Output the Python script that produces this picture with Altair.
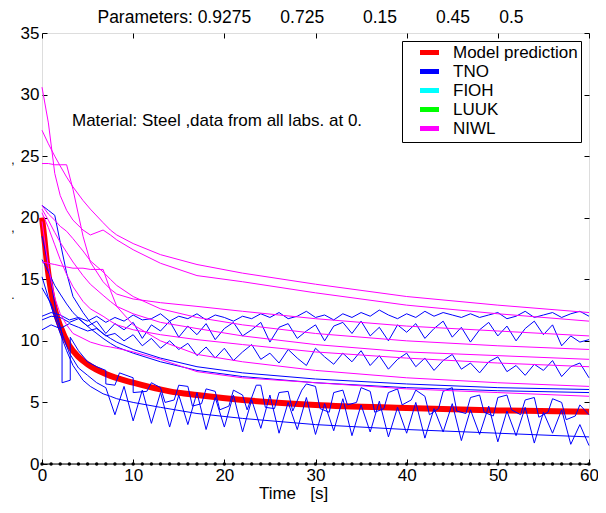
import altair as alt
import pandas as pd

# ---------------- data ----------------
LABS = ["Model prediction", "TNO", "FIOH", "LUUK", "NIWL"]
LAB_COLORS = ["#ff0000", "#0000ff", "#00ffff", "#00ff00", "#ff00ff"]

# model prediction (red)
RED_T = [0, 0.25, 0.5, 1, 1.5, 2, 3, 4, 5, 7, 10, 14, 17, 22, 30, 40, 50, 60]
RED_V = [20.0, 18.4, 16.6, 14.0, 12.3, 11.2, 9.6, 8.7, 8.1, 7.3, 6.6, 5.9, 5.6, 5.2, 4.8, 4.55, 4.35, 4.25]

# sampling times of the smooth curves
T_SMOOTH = [0, 0.7, 1.4, 2, 2.7, 3.4, 4.5, 5.3, 6.7, 7.5, 8.2, 10, 13, 17, 22, 30, 40, 50, 60]

# NIWL (magenta) curves
NIWL_A = [27.1, 26.0, 25.0, 24.2, 23.3, 22.5, 21.4, 20.7, 19.6, 19.0, 18.6, 17.9, 17.0, 16.2, 15.5, 14.6, 13.6, 12.9, 12.3]
NIWL_B = [30.6, 27.7, 23.6, 21.8, 20.6, 19.8, 19.0, 18.6, 19.0, 18.6, 18.2, 17.4, 16.3, 15.3, 14.8, 13.9, 12.9, 12.2, 11.6]
NIWL_C = [24.4, 24.4, 24.3, 24.3, 24.3, 22.3, 18.5, 16.4, 14.8, 14.2, 13.8, 13.4, 13.1, 12.8, 12.4, 11.8, 11.2, 10.8, 10.4]
NIWL_D = [21.0, 20.3, 19.8, 19.3, 18.9, 18.3, 17.3, 16.5, 15.6, 15.0, 14.5, 13.6, 12.6, 11.9, 11.3, 10.6, 10.0, 9.6, 9.3]
NIWL_E = [20.7, 19.8, 18.8, 18.0, 17.2, 16.4, 15.3, 14.6, 13.7, 13.2, 12.8, 12.2, 11.5, 11.0, 10.4, 9.7, 9.1, 8.8, 8.5]
NIWL_F = [20.4, 19.2, 17.8, 16.6, 15.4, 14.4, 13.2, 12.6, 12.0, 11.6, 11.3, 10.9, 10.5, 10.1, 9.7, 9.1, 8.6, 8.2, 7.9]
NIWL_G = [16.4, 16.3, 16.2, 16.1, 16.0, 15.9, 15.9, 15.8, 15.8, 14.1, 12.8, 11.3, 10.0, 8.9, 8.3, 7.6, 7.0, 6.6, 6.3]
NIWL_H = [19.7, 16.0, 13.5, 12.2, 11.3, 10.6, 10.2, 9.9, 9.6, 9.5, 9.4, 9.1, 8.5, 7.5, 7.0, 6.6, 6.1, 5.8, 5.5]

# TNO (blue) smooth curves
TNO_S1 = [21.0, 20.6, 20.2, 18.0, 15.5, 13.6, 12.3, 11.5, 10.6, 10.2, 9.9, 9.3, 8.6, 7.9, 7.4, 6.9, 6.5, 6.2, 6.05]
TNO_S2 = [16.6, 15.6, 14.5, 13.8, 13.0, 12.3, 11.5, 11.0, 10.2, 9.8, 9.5, 9.0, 8.3, 7.6, 7.1, 6.6, 6.2, 5.95, 5.8]
TNO_S3 = [15.2, 13.5, 11.9, 10.6, 9.2, 8.0, 6.8, 6.3, 5.7, 5.5, 5.3, 5.0, 4.6, 4.1, 3.7, 3.2, 2.8, 2.5, 2.2]

# one-second sampling times of the noisy curves
T_SEC = [0, 1, 2, 3, 4, 5, 6, 7, 8, 9, 10, 11, 12, 13, 14, 15, 16, 17, 18, 19, 20,
         21, 22, 23, 24, 25, 26, 27, 28, 29, 30, 31, 32, 33, 34, 35, 36, 37, 38, 39, 40,
         41, 42, 43, 44, 45, 46, 47, 48, 49, 50, 51, 52, 53, 54, 55, 56, 57, 58, 59, 60]

TNO_N1 = [12.0, 12.3, 12.1, 11.7, 11.9, 11.6, 12.0, 11.5, 11.9, 11.6, 12.1, 11.7, 11.8, 12.2, 11.6, 12.0,
          11.8, 12.2, 11.7, 12.1, 11.9, 11.6, 12.0, 11.8, 12.2, 11.9, 12.3, 11.8, 12.0, 12.4, 11.9, 12.1,
          11.7, 12.2, 11.9, 12.3, 12.0, 12.5, 12.1, 11.8, 12.2, 11.9, 12.4, 12.0, 12.3, 12.1, 11.9, 12.2,
          11.9, 12.1, 12.3, 11.8, 12.0, 12.4, 11.9, 12.1, 12.3, 11.9, 12.2, 12.4, 12.0]
TNO_N2 = [11.7, 12.0, 11.9, 11.5, 11.8, 11.2, 11.6, 10.6, 11.4, 10.9, 11.5, 10.2, 11.3, 10.8, 11.6, 10.3,
          11.2, 10.5, 11.4, 10.1, 11.0, 11.5, 10.4, 10.9, 11.5, 9.9, 11.1, 11.4, 10.2, 10.8, 11.3, 10.0,
          11.2, 11.5, 10.6, 11.6, 10.4, 11.1, 10.0, 11.3, 10.7, 11.4, 10.2, 11.0, 11.6, 10.3, 11.1, 9.9,
          10.9, 11.5, 10.4, 11.2, 10.0, 11.0, 11.6, 10.5, 11.3, 9.6, 10.4, 9.9, 10.1]
TNO_N3 = [10.9, 11.3, 11.0, 11.4, 11.1, 10.8, 11.0, 10.4, 10.6, 10.0, 10.5, 9.6, 10.2, 9.4, 10.0, 9.3,
          9.8, 8.8, 9.5, 8.6, 9.4, 8.4, 9.1, 9.7, 8.5, 9.0, 8.2, 9.3, 8.6, 8.0, 9.4, 8.7,
          8.1, 9.0, 8.3, 9.2, 8.0, 8.8, 7.7, 8.5, 9.0, 7.9, 8.6, 7.6, 8.4, 8.9, 7.7, 8.2,
          7.4, 8.3, 8.7, 7.5, 8.0, 7.2, 8.1, 7.6, 8.4, 7.1, 7.9, 8.2, 7.0]
TNO_ZIG = [14.3, 13.0, 11.0, 9.0, 7.8, 7.2, 6.6, 6.2, 4.0, 6.3, 3.5, 6.0, 3.3, 5.8, 3.0, 5.6,
           3.2, 5.8, 2.8, 5.4, 3.0, 5.6, 2.6, 5.2, 2.9, 5.6, 2.5, 5.0, 2.8, 5.4, 2.4, 4.9,
           2.7, 5.3, 2.3, 4.8, 2.6, 5.1, 2.2, 4.6, 2.5, 5.0, 2.1, 4.5, 2.6, 4.9, 1.9, 4.4,
           2.4, 4.7, 1.8, 4.3, 2.3, 4.6, 1.7, 4.2, 2.5, 4.4, 1.6, 3.2, 1.5]

# TNO step-like curve (time, value), vertical edges repeat a time
TNO_STEP_T = [0, 0.5, 1, 1.5, 2.2, 2.2, 3.1, 3.1, 4, 5, 6, 7, 7, 8, 8.5, 10, 10, 11.5, 12, 13, 13.5,
              14.5, 15, 16, 16.5, 17.5, 18, 19, 19.5, 20.5, 21, 22, 22.5, 23.5, 24, 24.5, 25.5, 26,
              27, 27.5, 28.5, 29, 30, 30.5, 31.5, 32, 33, 33.5, 34.5, 35, 36, 36.5, 37.5, 38, 39,
              39.5, 40.5, 41, 42, 42.5, 43.5, 44, 45, 45.5, 46.5, 47, 48, 48.5, 49.5, 50, 51, 51.5,
              52.5, 53, 54, 54.5, 55.5, 56, 57, 57.5, 58.5, 59, 60]
TNO_STEP_V = [18.5, 16.8, 14.8, 12.5, 10.6, 6.6, 6.8, 10.3, 9.2, 8.3, 7.9, 7.6, 6.5, 6.4, 7.4, 7.0, 5.8,
              5.9, 6.6, 6.2, 5.0, 5.2, 6.4, 6.3, 4.7, 4.9, 6.1, 5.9, 4.4, 4.7, 6.0, 5.6, 4.4, 6.4,
              6.4, 4.6, 4.5, 5.8, 5.9, 4.3, 6.0, 6.5, 6.3, 4.5, 4.2, 5.8, 6.0, 4.8, 5.0, 6.2, 5.9,
              4.2, 4.5, 5.8, 6.1, 4.8, 5.2, 6.0, 5.5, 4.0, 4.5, 5.9, 6.2, 4.3, 4.1, 5.4, 5.6, 4.2,
              3.9, 5.4, 5.6, 4.4, 4.0, 5.2, 5.4, 3.8, 4.2, 5.3, 5.0, 3.6, 3.9, 4.8, 4.0]

# black base line at zero with one marker per second
ZERO_V = [0, 0, 0, 0, 0, 0, 0, 0, 0, 0, 0, 0, 0, 0, 0, 0, 0, 0, 0, 0, 0,
          0, 0, 0, 0, 0, 0, 0, 0, 0, 0, 0, 0, 0, 0, 0, 0, 0, 0, 0, 0,
          0, 0, 0, 0, 0, 0, 0, 0, 0, 0, 0, 0, 0, 0, 0, 0, 0, 0, 0, 0]

X_TICKS = [0, 10, 20, 30, 40, 50, 60]
Y_TICKS = [0, 5, 10, 15, 20, 25, 30, 35]

NB = "\u00a0"
TITLE = ("Parameters: 0.9275" + NB * 6 + "0.725" + NB * 8 + "0.15"
         + NB * 8 + "0.45" + NB * 6 + "0.5")
XTITLE = "Time" + NB * 3 + "[s]"
NOTE = "Material: Steel ,data from all labs. at 0."

# ---------------- tables ----------------
def rows(lab, name, ts, vs):
    return [{"lab": lab, "line": name, "idx": i, "t": t, "v": v} for i, (t, v) in enumerate(zip(ts, vs))]

data_rows = []
for nm, arr in [("S1", TNO_S1), ("S2", TNO_S2), ("S3", TNO_S3)]:
    data_rows += rows("TNO", nm, T_SMOOTH, arr)
for nm, arr in [("N1", TNO_N1), ("N2", TNO_N2), ("N3", TNO_N3), ("Z", TNO_ZIG)]:
    data_rows += rows("TNO", nm, T_SEC, arr)
data_rows += rows("TNO", "Q", TNO_STEP_T, TNO_STEP_V)
for nm, arr in [("A", NIWL_A), ("B", NIWL_B), ("C", NIWL_C), ("D", NIWL_D),
                ("E", NIWL_E), ("F", NIWL_F), ("G", NIWL_G), ("H", NIWL_H)]:
    data_rows += rows("NIWL", nm, T_SMOOTH, arr)
lines_df = pd.DataFrame(data_rows)
red_df = pd.DataFrame(rows("Model prediction", "model", RED_T, RED_V))
zero_df = pd.DataFrame({"t": T_SEC, "v": ZERO_V})

FONT = "Liberation Sans"
xscale = alt.Scale(domain=[0, 60], nice=False, zero=False)
yscale = alt.Scale(domain=[0, 35], nice=False)
cscale = alt.Scale(domain=LABS, range=LAB_COLORS)

tick_style = dict(domain=False, ticks=True, tickSize=5, tickColor="black", tickWidth=1,
                  grid=False, labelFont=FONT, labelFontSize=17, labelColor="black",
                  labelFlush=False, labelOverlap=False,
                  titleFont=FONT, titleFontSize=17, titleColor="black", titleFontWeight="normal")

x_bottom = alt.Axis(orient="bottom", values=X_TICKS, offset=-5, labelPadding=3,
                    title=XTITLE, titlePadding=2, titleX=251, titleAnchor="start",
                    titleAlign="center", format="d", **tick_style)
y_left = alt.Axis(orient="left", values=Y_TICKS, offset=-5, labelPadding=3, title=None,
                  format="d", **tick_style)
x_top = alt.Axis(orient="top", values=X_TICKS, offset=-5, labels=False, title=None, **tick_style)
y_right = alt.Axis(orient="right", values=Y_TICKS, offset=-5, labels=False, title=None, **tick_style)

legend = alt.Legend(title=None, orient="top-right", offset=8, strokeColor="black", fillColor="white",
                    padding=3, symbolType="M-1.9,0H1.9", symbolStrokeWidth=5, symbolSize=100,
                    labelFont=FONT, labelFontSize=17, labelColor="black", rowPadding=-2,
                    symbolOffset=16, labelOffset=15, cornerRadius=0,
                    labelExpr="datum.label + '\u00a0'")

red = alt.Chart(red_df).mark_line(strokeWidth=6, interpolate="monotone").encode(
    x=alt.X("t:Q", scale=xscale, axis=x_top),
    y=alt.Y("v:Q", scale=yscale, axis=y_right),
    color=alt.Color("lab:N", scale=cscale, legend=legend),
    order="idx:Q",
)

lab_lines = alt.Chart(lines_df).mark_line(strokeWidth=1).encode(
    x=alt.X("t:Q", scale=xscale, axis=None),
    y=alt.Y("v:Q", scale=yscale, axis=None),
    color=alt.Color("lab:N", scale=cscale, legend=legend),
    detail="line:N",
    order="idx:Q",
)

zero = alt.Chart(zero_df).mark_line(
    color="black", strokeWidth=1,
    point=alt.OverlayMarkDef(filled=True, color="black", size=12),
).encode(
    x=alt.X("t:Q", scale=xscale, axis=x_bottom),
    y=alt.Y("v:Q", scale=yscale, axis=y_left),
)

note = alt.Chart(pd.DataFrame({"txt": [NOTE]})).mark_text(
    align="left", baseline="middle", font=FONT, fontSize=17, color="black"
).encode(x=alt.value(30), y=alt.value(88), text="txt:N")

marks_df = pd.DataFrame({"txt": [",", ",", "."], "py": [127, 195, 262]})
ymarks = alt.Chart(marks_df).mark_text(
    align="center", baseline="middle", font=FONT, fontSize=12, color="black"
).encode(x=alt.value(-29), y=alt.Y("py:Q", scale=None, axis=None), text="txt:N")

chart = alt.layer(red, lab_lines, zero, note, ymarks).resolve_axis(
    x="independent", y="independent"
).properties(
    width=547, height=431,
    padding={"left": 34, "top": 25, "right": 9, "bottom": 41},
    autosize=alt.AutoSizeParams(type="none"),
    title=alt.TitleParams(TITLE, font=FONT, fontSize=17.5, fontWeight="normal", color="black",
                          anchor="middle", offset=-2, dx=-5),
).configure_view(
    stroke="black", strokeWidth=1
).configure(background="white")

chart.save("out.html", embed_options={"renderer": "svg", "actions": False})
